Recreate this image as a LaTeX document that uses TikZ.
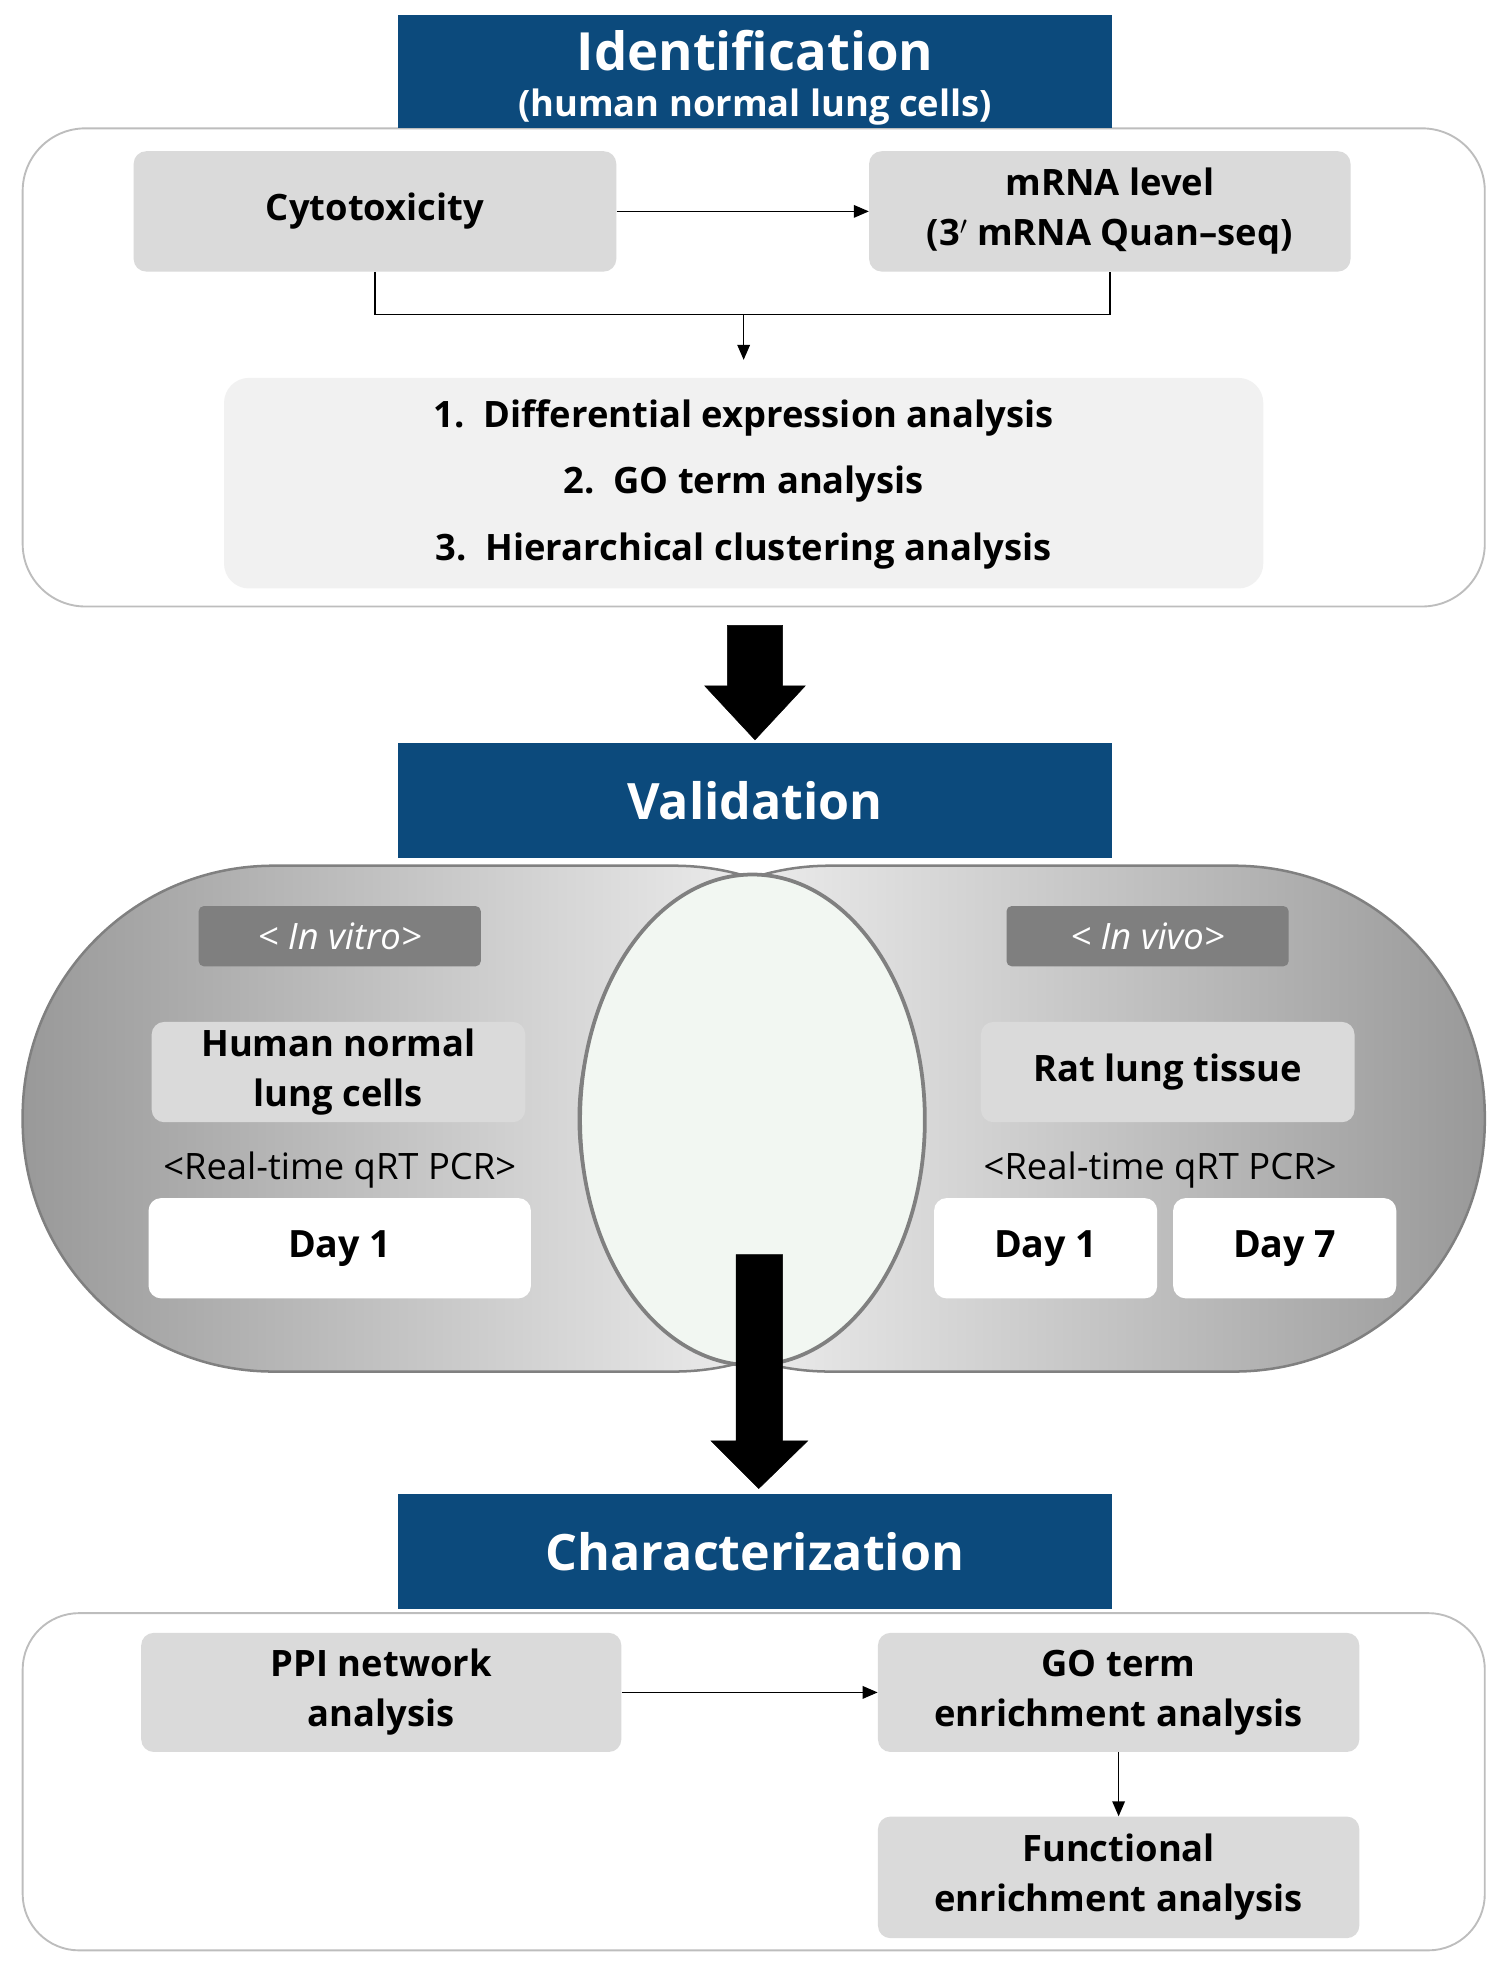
\documentclass[tikz,border=0pt]{standalone}
\usepackage{fontspec}
\setmainfont{Open Sans}
\usetikzlibrary{arrows.meta}
\definecolor{hdr}{HTML}{0C4A7C}
\definecolor{gbox}{HTML}{DADADA}
\definecolor{lbox}{HTML}{F1F1F1}
\definecolor{tag}{HTML}{7F7F7F}
\definecolor{frame}{HTML}{BDBDBD}
\begin{document}
\begin{tikzpicture}[x=1bp,y=-1bp,
  hd/.style={fill=hdr,text=white,font=\bfseries\fontsize{40}{44}\selectfont,align=center,inner sep=0},
  gb/.style={fill=gbox,rounded corners=10,font=\bfseries\fontsize{29}{40}\selectfont,align=center,inner sep=0},
  wb/.style={fill=white,rounded corners=10,font=\bfseries\fontsize{30}{40}\selectfont,inner sep=0},
  tg/.style={fill=tag,rounded corners=4,text=white,font=\itshape\fontsize{29}{34}\selectfont,inner sep=0},
  ar/.style={-{Triangle[length=12,width=10]},line width=1.3},
  big/.style={fill=black},
  txt/.style={font=\bfseries\fontsize{29}{34}\selectfont}]
\useasboundingbox (0,0) rectangle (1200,1568);
% top box
\draw[frame,line width=1.5,fill=white,rounded corners=50] (18,102) rectangle (1180,482);
\node[hd,minimum width=570,minimum height=90] (h1) at (600,57) {};
\node[text=white,font=\bfseries\fontsize{42}{44}\selectfont] (h1a) at (600,40) {Identification};
\node[text=white,font=\bfseries\fontsize{29}{32}\selectfont] (h1b) at (600,85) {(human normal lung cells)};
\node[gb,minimum width=385,minimum height=96] (cyto) at (298,168) {Cytotoxicity};
\node[gb,minimum width=384,minimum height=96] (mrna) at (882,168) {mRNA level\\(3$'$ mRNA Quan–seq)};
\draw[ar] (cyto) -- (mrna);
\node[fill=lbox,rounded corners=20,minimum width=829,minimum height=168,inner sep=0] (list) at (591,384) {};
\node[txt] (l1) at (591,332) {1.\ \ Differential expression analysis};
\node[txt] (l2) at (591,385) {2.\ \ GO term analysis};
\node[txt] (l3) at (591,438) {3.\ \ Hierarchical clustering analysis};
\coordinate (jn) at (591,250);
\draw[line width=1.2] (cyto.south) |- (jn) -| (mrna.south);
\draw[ar] (jn) -- (591,286);
% arrow 1
\coordinate (a1s) at (600,497);
\draw[big] (578,497) -- (622,497) -- (622,545) -- (640,545) -- (600,588) -- (560,545) -- (578,545) -- cycle;
% validation
\node[hd,minimum width=570,minimum height=92] (h2) at (600,636) {Validation};
\shade[left color=gray!80,right color=white,draw=gray,line width=2] (18,688) [rounded corners=200] rectangle (735,1090);
\shade[right color=gray!80,left color=white,draw=gray,line width=2] (460,688) [rounded corners=200] rectangle (1180,1090);
\draw[gray,line width=3,fill={rgb,255:red,242;green,247;blue,242}] (598,890) ellipse [x radius=137,y radius=195];
\node[tg,minimum width=225,minimum height=48] (iv1) at (270,744) {< In vitro>};
\node[tg,minimum width=225,minimum height=48] (iv2) at (912,744) {< In vivo>};
\node[gb,minimum width=298,minimum height=80] (hn) at (269,852) {Human normal\\lung cells};
\node[gb,minimum width=298,minimum height=80] (rat) at (928,852) {Rat lung tissue};
\node[txt,font=\fontsize{29}{34}\selectfont] (rt1) at (270,930) {<Real-time qRT PCR>};
\node[txt,font=\fontsize{29}{34}\selectfont] (rt2) at (922,930) {<Real-time qRT PCR>};
\node[wb,minimum width=305,minimum height=80] (d1) at (270,992) {Day 1};
\node[wb,minimum width=178,minimum height=80] (d2) at (831,992) {Day 1};
\node[wb,minimum width=178,minimum height=80] (d3) at (1021,992) {Day 7};
% arrow 2
\draw[big] (585,997) -- (622,997) -- (622,1145) -- (642,1145) -- (603,1183) -- (565,1145) -- (585,1145) -- cycle;
% characterization
\node[hd,minimum width=570,minimum height=91] (h3) at (600,1233) {Characterization};
\draw[frame,line width=1.5,rounded corners=45] (18,1282) rectangle (1180,1550);
\node[gb,minimum width=383,minimum height=95] (ppi) at (303,1345) {PPI network\\analysis};
\node[gb,minimum width=384,minimum height=95] (go) at (889,1345) {GO term\\enrichment analysis};
\node[gb,minimum width=384,minimum height=97] (fn) at (889,1492) {Functional\\enrichment analysis};
\draw[ar] (ppi) -- (go);
\draw[ar] (go) -- (fn);
\end{tikzpicture}
\end{document}
